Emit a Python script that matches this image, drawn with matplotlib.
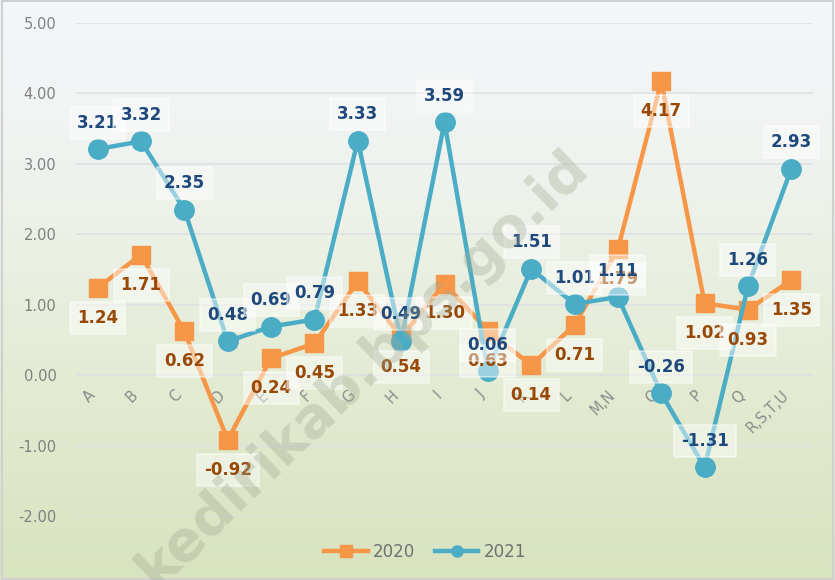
import matplotlib
matplotlib.use("Agg")
import matplotlib.pyplot as plt
import matplotlib.patches as mpatches
from matplotlib.colors import LinearSegmentedColormap
import numpy as np

# --- datos ---
kategori = ["A", "B", "C", "D", "E", "F", "G", "H", "I", "J", "K", "L",
            "M,N", "O", "P", "Q", "R,S,T,U"]
nilai_2020 = [1.24, 1.71, 0.62, -0.92, 0.24, 0.45, 1.33, 0.54, 1.30, 0.63,
              0.14, 0.71, 1.79, 4.17, 1.02, 0.93, 1.35]
nilai_2021 = [3.21, 3.32, 2.35, 0.48, 0.69, 0.79, 3.33, 0.49, 3.59, 0.06,
              1.51, 1.01, 1.11, -0.26, -1.31, 1.26, 2.93]
y_ticks = [-2, -1, 0, 1, 2, 3, 4, 5]

c2020 = "#f79646"
c2021 = "#4bacc6"
lbl2020 = "#984807"
lbl2021 = "#1f497d"
abu = "#808080"

fig = plt.figure(figsize=(8.35, 5.8), dpi=100)

# latar gradasi
bg = fig.add_axes([0, 0, 1, 1], zorder=-10)
cmap = LinearSegmentedColormap.from_list(
    "bg", ["#f4f7fb", "#eef2ec", "#e3ebd2", "#d8e3bf"])
bg.imshow(np.linspace(0, 1, 256).reshape(-1, 1), aspect="auto", cmap=cmap,
          extent=[0, 1, 0, 1])
bg.add_patch(mpatches.Rectangle((0.002, 0.002), 0.996, 0.996, fill=False,
                                edgecolor="#d0d0d0", lw=1.5))
bg.set_xlim(0, 1)
bg.set_ylim(0, 1)
bg.axis("off")

ax = fig.add_axes([76 / 835, 1 - 516 / 580, 737 / 835, 493 / 580])
ax.patch.set_alpha(0)
x = np.arange(len(kategori))

ax.plot(x, nilai_2020, color=c2020, lw=3.2, marker="s", ms=13,
        label="2020", zorder=3)
ax.plot(x, nilai_2021, color=c2021, lw=3.2, marker="o", ms=14,
        label="2021", zorder=4)

kotak = dict(boxstyle="square,pad=0.42", facecolor="white", alpha=0.45,
             edgecolor="white", lw=1.3)
for xi, v in zip(x, nilai_2020):
    ax.annotate(f"{v:.2f}", (xi, v), xytext=(0, -21.5), textcoords="offset points",
                ha="center", va="center", fontsize=12, fontweight="bold",
                color=lbl2020, bbox=kotak, zorder=6)
for xi, v in zip(x, nilai_2021):
    ax.annotate(f"{v:.2f}", (xi, v), xytext=(0, 19), textcoords="offset points",
                ha="center", va="center", fontsize=12, fontweight="bold",
                color=lbl2021, bbox=kotak, zorder=7)

ax.set_xlim(-0.5, len(kategori) - 0.5)
ax.set_ylim(-2, 5)
ax.set_yticks(y_ticks)
ax.set_yticklabels([f"{t:.2f}" for t in y_ticks])
ax.yaxis.grid(True, color="#e0e0e0", lw=1.2)
ax.set_axisbelow(True)
for s in ["top", "right", "left"]:
    ax.spines[s].set_visible(False)
ax.spines["bottom"].set_position(("data", 0))
ax.spines["bottom"].set_visible(False)
ax.set_xticks(x)
ax.set_xticklabels(kategori, rotation=45, ha="right", va="top")
ax.tick_params(axis="x", length=0, pad=9, labelsize=10.5, colors="#8c8c8c")
ax.tick_params(axis="y", length=0, pad=14, labelsize=10.5, colors=abu)

# watermark
fig.text(0.435, 0.365, "kedirikab.bps.go.id", rotation=44, fontsize=40,
         fontweight="bold", color="#a0a890", alpha=0.35, ha="center",
         va="center", zorder=10)

leg = ax.legend(loc="center", bbox_to_anchor=(425 / 835, 28 / 580),
                bbox_transform=fig.transFigure, ncol=2, frameon=False,
                fontsize=12, handlelength=2.6, columnspacing=1.2,
                handletextpad=0.3)
for t in leg.get_texts():
    t.set_color("#707070")
for h in leg.legend_handles:
    h.set_markersize(8)

plt.savefig("out.png", dpi=100)
plt.close()
